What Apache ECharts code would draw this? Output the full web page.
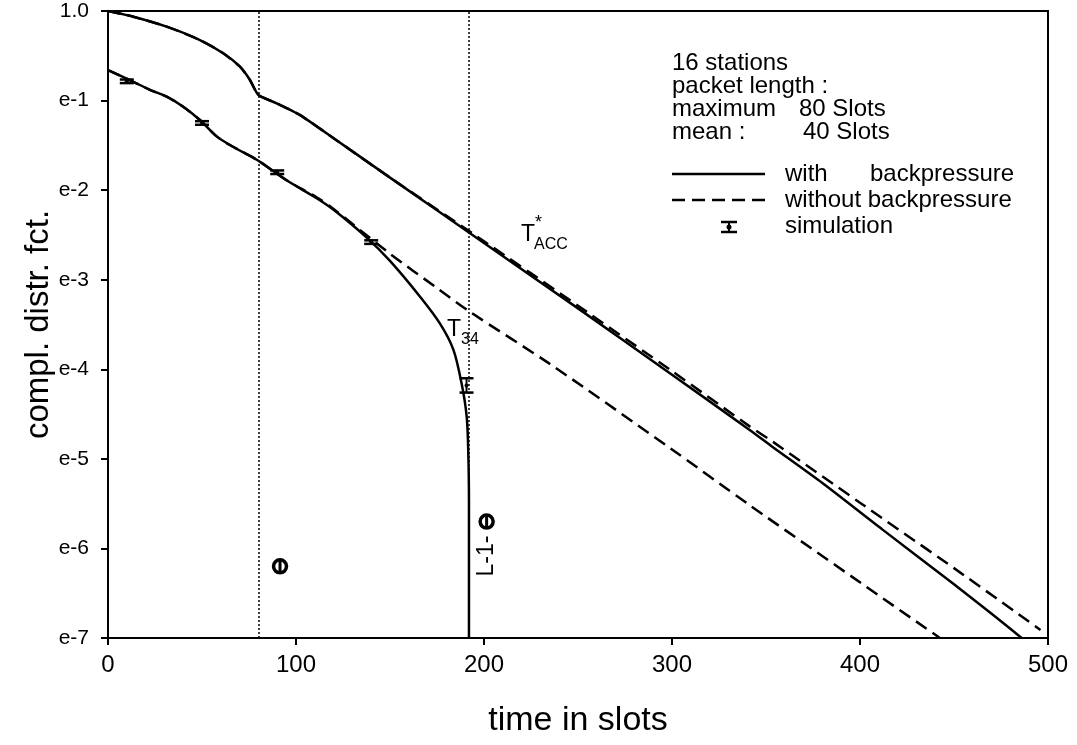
<!DOCTYPE html>
<html>
<head>
<meta charset="utf-8">
<script src="https://cdn.jsdelivr.net/npm/echarts@6/dist/echarts.min.js"></script>
<style>
html,body{margin:0;padding:0;background:#fff;}
#chart{width:1077px;height:745px;}
</style>
</head>
<body>
<div id="chart"></div>
<script>
// y values are natural logarithms of the complementary distribution function
const xTickLabels = ['0', '100', '200', '300', '400', '500'];
const yTickLabels = ['e-7', 'e-6', 'e-5', 'e-4', 'e-3', 'e-2', 'e-1', '1.0'];

const taccWith = [
  [0, 0], [13.5, -0.064], [31.2, -0.175], [48.9, -0.324], [61.3, -0.472], [70.2, -0.622],
  [75.5, -0.77], [80, -0.938], [89.7, -1.03], [102, -1.16], [120, -1.42], [150, -1.86],
  [200, -2.59], [250, -3.32], [300, -4.06], [341.5, -4.68], [353.7, -4.87], [380, -5.27],
  [412, -5.79], [450, -6.40], [470, -6.73], [486, -7.0]
];
const taccWithout = [
  [0, 0], [13.5, -0.064], [31.2, -0.175], [48.9, -0.324], [61.3, -0.472], [70.2, -0.622],
  [75.5, -0.77], [80, -0.938], [89.7, -1.03], [102, -1.16], [120, -1.42], [150, -1.86],
  [200, -2.57], [250, -3.29], [300, -4.02], [341.5, -4.64], [353.7, -4.81], [400, -5.49],
  [450, -6.22], [496, -6.91]
];
const t34With = [
  [0, -0.66], [13.5, -0.79], [22.3, -0.88], [31.2, -0.957], [40, -1.068], [48.9, -1.217],
  [57.8, -1.40], [66, -1.51], [79.1, -1.66], [95, -1.89], [111, -2.09], [120, -2.22],
  [137.6, -2.53], [150, -2.79], [166, -3.19], [176.6, -3.49], [183.7, -3.78],
  [188.1, -4.16], [190.8, -4.53], [191.6, -4.90], [192, -5.46], [192, -7.0]
];
const t34Without = [
  [0, -0.66], [13.5, -0.79], [22.3, -0.88], [31.2, -0.957], [40, -1.068], [48.9, -1.217],
  [57.8, -1.40], [66, -1.51], [79.1, -1.66], [95, -1.89], [111, -2.08], [120, -2.21],
  [150, -2.71], [174.8, -3.09], [192.6, -3.36], [235, -3.94], [299, -4.88], [341.5, -5.52],
  [442.5, -7.0]
];
// simulation: [x, low, high, centre]
const simBars = [
  [10, -0.805, -0.765, -0.785], [50, -1.27, -1.23, -1.25], [90, -1.82, -1.78, -1.80],
  [140, -2.60, -2.56, -2.58], [190.7, -4.26, -4.10, -4.18]
];
// simulation circles: [x, y]
const simCircles = [[91.5, -6.20], [201.4, -5.70]];
const vLines = [80, 192];

const chart = echarts.init(document.getElementById('chart'));
const FONT = '"Liberation Sans", Arial, Helvetica, sans-serif';

function iBeam(params, api) {
  const x = api.value(0);
  const pLo = api.coord([x, api.value(1)]);
  const pHi = api.coord([x, api.value(2)]);
  const pC = api.coord([x, api.value(3)]);
  const w = 7;
  return {
    type: 'group',
    children: [
      {type: 'line', shape: {x1: pLo[0], y1: pLo[1], x2: pHi[0], y2: pHi[1]}, style: {stroke: '#000', lineWidth: 2}},
      {type: 'line', shape: {x1: pLo[0] - w, y1: pLo[1], x2: pLo[0] + w, y2: pLo[1]}, style: {stroke: '#000', lineWidth: 2.5}},
      {type: 'line', shape: {x1: pHi[0] - w, y1: pHi[1], x2: pHi[0] + w, y2: pHi[1]}, style: {stroke: '#000', lineWidth: 2.5}},
      {type: 'circle', shape: {cx: pC[0], cy: pC[1], r: 2}, style: {fill: '#000'}}
    ]
  };
}
function circ(params, api) {
  const p = api.coord([api.value(0), api.value(1)]);
  return {
    type: 'group',
    children: [
      {type: 'circle', shape: {cx: p[0], cy: p[1], r: 6.5}, style: {fill: '#fff', stroke: '#000', lineWidth: 3.5}},
      {type: 'line', shape: {x1: p[0], y1: p[1] - 6.5, x2: p[0], y2: p[1] + 6.5}, style: {stroke: '#000', lineWidth: 3}}
    ]
  };
}

const txt = (x, y, s, size) => ({
  type: 'text', x: x, y: y,
  style: {text: s, font: (size || 24) + 'px ' + FONT, fill: '#000',
    textVerticalAlign: 'middle', verticalAlign: 'middle', textAlign: 'left', align: 'left'}
});

const option = {
  animation: false,
  backgroundColor: '#fff',
  grid: {left: 108, right: 29, top: 11, bottom: 107, show: true, borderColor: '#000', borderWidth: 2, backgroundColor: 'transparent'},
  xAxis: {
    type: 'value', min: 0, max: 500, interval: 100,
    name: 'time in slots', nameLocation: 'middle', nameGap: 66, nameMoveOverlap: false,
    nameTextStyle: {fontFamily: FONT, fontSize: 34, color: '#000'},
    axisLine: {show: true, onZero: false, lineStyle: {color: '#000', width: 2}},
    axisTick: {show: true, inside: false, length: 7, lineStyle: {color: '#000', width: 2}},
    axisLabel: {margin: 15, fontFamily: FONT, fontSize: 24, color: '#000',
      formatter: (v, i) => xTickLabels[i]},
    splitLine: {show: false}
  },
  yAxis: {
    type: 'value', min: -7, max: 0, interval: 1,
    name: 'compl. distr. fct.', nameLocation: 'middle', nameGap: 53, nameMoveOverlap: false,
    nameTextStyle: {fontFamily: FONT, fontSize: 33, color: '#000'},
    axisLine: {show: true, onZero: false, lineStyle: {color: '#000', width: 2}},
    axisTick: {show: true, inside: false, length: 7, lineStyle: {color: '#000', width: 2}},
    axisLabel: {margin: 19, fontFamily: FONT, fontSize: 21, color: '#000',
      formatter: (v, i) => yTickLabels[i]},
    splitLine: {show: false}
  },
  series: [
    {type: 'line', data: taccWith, showSymbol: false, smooth: 0.2, lineStyle: {color: '#000', width: 2.5},
      markLine: {silent: true, symbol: 'none', label: {show: false},
        lineStyle: {color: '#000', width: 1.5, type: [2, 2]},
        data: vLines.map(v => ({xAxis: v}))}},
    {type: 'line', data: t34With, showSymbol: false, smooth: 0.3, lineStyle: {color: '#000', width: 2.5}},
    {type: 'line', data: taccWithout, showSymbol: false, smooth: 0.2, lineStyle: {color: '#000', width: 2.5, type: [13, 7]}},
    {type: 'line', data: t34Without, showSymbol: false, smooth: 0.3, lineStyle: {color: '#000', width: 2.5, type: [13, 7]}},
    {type: 'custom', renderItem: iBeam, data: simBars, z: 5},
    {type: 'custom', renderItem: circ, data: simCircles, z: 5}
  ],
  graphic: [
    txt(672, 63, '16 stations'),
    txt(672, 86, 'packet length :'),
    txt(672, 109, 'maximum'),
    txt(799, 109, '80 Slots'),
    txt(672, 132, 'mean :'),
    txt(803, 132, '40 Slots'),
    {type: 'line', shape: {x1: 672, y1: 174, x2: 765, y2: 174}, style: {stroke: '#000', lineWidth: 2.5}},
    txt(785, 174, 'with'),
    txt(870, 174, 'backpressure'),
    {type: 'line', shape: {x1: 672, y1: 200, x2: 765, y2: 200}, style: {stroke: '#000', lineWidth: 2.5, lineDash: [13, 7]}},
    txt(785, 200, 'without backpressure'),
    {type: 'group', x: 721, y: 221, children: [
      {type: 'line', shape: {x1: 0, y1: 1, x2: 16, y2: 1}, style: {stroke: '#000', lineWidth: 2.5}},
      {type: 'line', shape: {x1: 0, y1: 11, x2: 16, y2: 11}, style: {stroke: '#000', lineWidth: 2.5}},
      {type: 'line', shape: {x1: 8, y1: 1, x2: 8, y2: 11}, style: {stroke: '#000', lineWidth: 2}},
      {type: 'circle', shape: {cx: 8, cy: 6, r: 2.5}, style: {fill: '#000'}}
    ]},
    txt(785, 226, 'simulation'),
    // curve labels
    {type: 'text', left: 521, top: 223, style: {text: 'T', font: '23px ' + FONT, fill: '#000'}},
    {type: 'text', left: 535, top: 214, style: {text: '*', font: '18px ' + FONT, fill: '#000'}},
    {type: 'text', left: 534, top: 237, style: {text: 'ACC', font: '16px ' + FONT, fill: '#000'}},
    {type: 'text', left: 447, top: 318, style: {text: 'T', font: '23px ' + FONT, fill: '#000'}},
    {type: 'text', left: 461, top: 332, style: {text: '34', font: '16px ' + FONT, fill: '#000'}},
    {type: 'text', x: 487, y: 556, rotation: Math.PI / 2,
      style: {text: 'L-1-', font: '23px ' + FONT, fill: '#000', textAlign: 'center', textVerticalAlign: 'middle', align: 'center', verticalAlign: 'middle'}}
  ]
};
chart.setOption(option);
</script>
</body>
</html>
